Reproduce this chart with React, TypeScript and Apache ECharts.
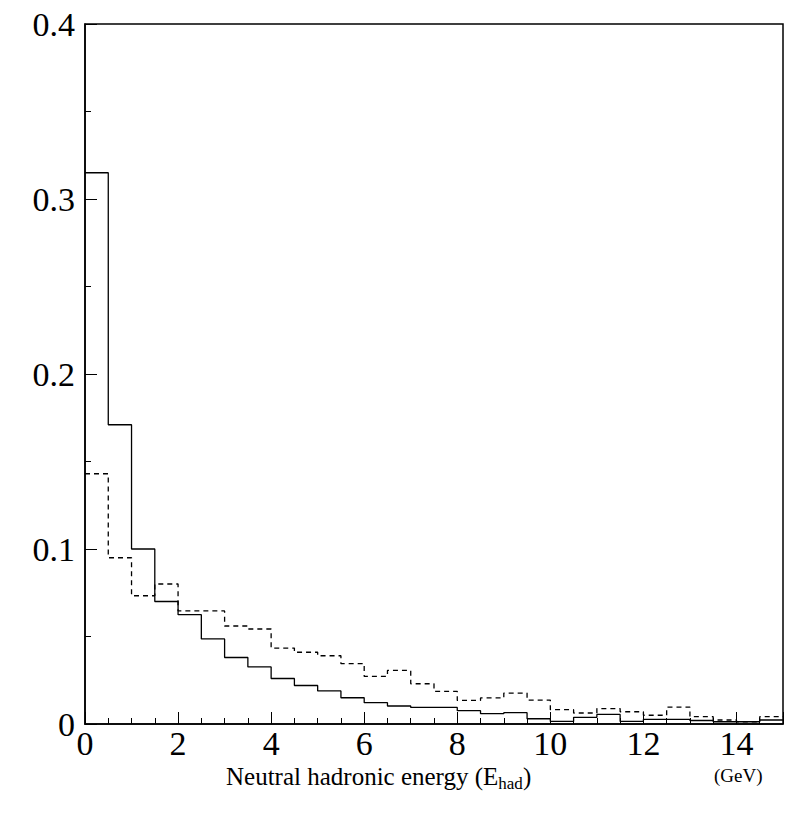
import React, { useEffect, useRef } from "react";
import * as echarts from "echarts";

const binEdges = Array.from({ length: 31 }, (_, i) => i * 0.5);
const solidValues = [0.315, 0.171, 0.1, 0.07, 0.0625, 0.0486, 0.038, 0.0326, 0.026, 0.022, 0.0189, 0.015, 0.0122, 0.0103, 0.0095, 0.0095, 0.0076, 0.0059, 0.0065, 0.003, 0.0015, 0.0038, 0.0055, 0.0015, 0.0027, 0.0027, 0.002, 0.0013, 0.0013, 0.0023];
const dashedValues = [0.143, 0.095, 0.0733, 0.08, 0.0646, 0.0646, 0.056, 0.0543, 0.0434, 0.041, 0.039, 0.0345, 0.0272, 0.0306, 0.023, 0.0187, 0.0135, 0.0149, 0.0177, 0.0137, 0.0082, 0.0063, 0.0088, 0.007, 0.005, 0.0097, 0.0042, 0.0023, 0.0013, 0.0042];

function stepData(vals: number[]) {
  const d = vals.map((v, i) => [binEdges[i], v]);
  d.push([binEdges[vals.length], vals[vals.length - 1]]);
  return d;
}

export default function App() {
  const ref = useRef<HTMLDivElement>(null);
  useEffect(() => {
    const chart = echarts.init(ref.current!, null, { renderer: "svg" });
    const font = "Liberation Serif, Times New Roman, serif";
    chart.setOption({
      animation: false,
      grid: { left: 85, right: 4, top: 24, bottom: 96, show: true, borderColor: "#000", borderWidth: 1.5, backgroundColor: "transparent" },
      xAxis: {
        type: "value", min: 0, max: 15, interval: 2,
        axisLine: { lineStyle: { color: "#000", width: 1.5 } },
        axisTick: { inside: true, length: 12, lineStyle: { color: "#000" } },
        minorTick: { show: true, splitNumber: 4, length: 6, lineStyle: { color: "#000" } },
        splitLine: { show: false },
        axisLabel: { color: "#000", fontFamily: font, fontSize: 34, margin: 2, showMaxLabel: false },
      },
      yAxis: {
        type: "value", min: 0, max: 0.4, interval: 0.1,
        axisLine: { lineStyle: { color: "#000", width: 1.5 } },
        axisTick: { inside: true, length: 12, lineStyle: { color: "#000" } },
        minorTick: { show: true, splitNumber: 2, length: 6, lineStyle: { color: "#000" } },
        splitLine: { show: false },
        axisLabel: { color: "#000", fontFamily: font, fontSize: 34, margin: 10, formatter: (v: number) => (v === 0 ? "0" : v.toFixed(1)) },
      },
      series: [
        { type: "line", step: "end", data: stepData(solidValues), symbol: "none", lineStyle: { color: "#000", width: 1.3 } },
        { type: "line", step: "end", data: stepData(dashedValues), symbol: "none", lineStyle: { color: "#000", width: 1.3, type: [5, 4] } },
      ],
      graphic: [
        {
          type: "text", left: 226, top: 764,
          style: {
            text: "{a|Neutral hadronic energy (E}{s|had}{a|)}",
            rich: {
              a: { fontFamily: font, fontSize: 25, fill: "#000" },
              s: { fontFamily: font, fontSize: 17, fill: "#000", padding: [14, 0, 0, 0] },
            },
          },
        },
        { type: "text", left: 714, top: 766, style: { text: "(GeV)", fontFamily: font, fontSize: 19, fill: "#000" } },
      ],
    });
    return () => chart.dispose();
  }, []);
  return <div ref={ref} style={{ width: 787, height: 820, position: "absolute", left: 0, top: 0 }} />;
}
